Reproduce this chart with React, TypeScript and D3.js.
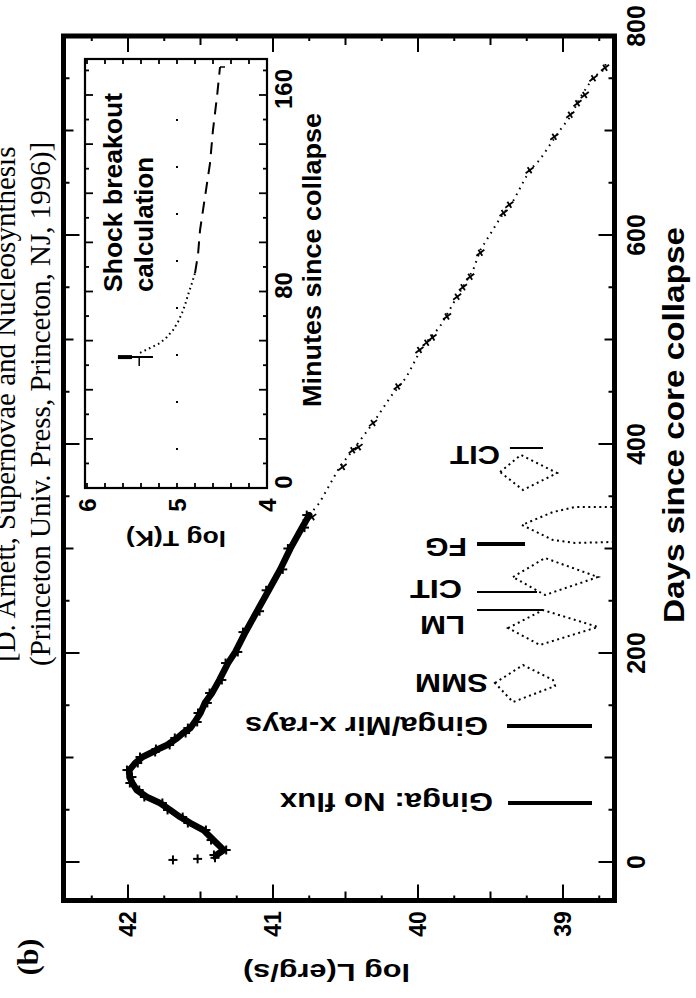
import React from 'react';
import * as d3 from 'd3';

const WIDTH = 696;
const HEIGHT = 998;

// ---------------- Light curve (days since core collapse, log L in erg/s) -----
const earlyDays = [2, 3, 4];
const earlyLogL = [41.69, 41.52, 41.4];

const bandDays = [6.7, 11.5, 21, 30.6, 37.3, 43, 49.8, 56.5, 62.2, 68.9, 75.6, 81.3, 88, 94.7, 100.5, 105.3, 108.1, 112, 118.7, 123.4, 128.2, 134, 142.6, 152.2, 161.7, 174.2, 190.4, 201, 220, 240, 260, 280, 300, 320, 332];
const bandLogL = [41.39, 41.34, 41.41, 41.48, 41.57, 41.64, 41.71, 41.78, 41.87, 41.94, 41.97, 41.99, 41.99, 41.95, 41.9, 41.83, 41.79, 41.73, 41.66, 41.62, 41.57, 41.54, 41.5, 41.47, 41.42, 41.37, 41.31, 41.26, 41.19, 41.11, 41.03, 40.95, 40.88, 40.8, 40.75];

const tailDays = [332, 343.5, 378, 394, 420, 445, 464, 493, 512, 541, 566.5, 585.6, 617, 633.5, 662, 672, 700.5, 713, 732, 751, 758, 765.5];
const tailLogL = [40.75, 40.68, 40.54, 40.45, 40.31, 40.19, 40.08, 39.97, 39.85, 39.73, 39.62, 39.57, 39.43, 39.34, 39.23, 39.16, 39.02, 38.95, 38.88, 38.79, 38.72, 38.7];

const crossDays = [325, 330, 378, 394, 397, 420, 455, 490, 497, 502, 522, 541, 550, 560, 583, 621, 629, 662, 694, 715, 726, 734, 750, 760];
const crossLogL = [40.78, 40.73, 40.52, 40.45, 40.41, 40.31, 40.14, 39.99, 39.94, 39.9, 39.8, 39.73, 39.69, 39.64, 39.57, 39.41, 39.37, 39.23, 39.06, 38.95, 38.9, 38.85, 38.79, 38.71];

// ---------------- Observation annotations ------------------------------------
const obsLabels = ['Ginga: No flux', 'Ginga/Mir x-rays', 'SMM', 'LM', 'CIT', 'FG', 'CIT'];
const obsLabelDays = [57, 130, 171, 227, 261, 301, 389];
const obsLabelLogL = [39.483, 39.517, 39.517, 39.676, 39.697, 39.662, 39.434];
const obsLabelWidths = [213, 243, 73, 45, 52, 42, 50];

const obsLineDays = [56.5, 130.1, 241.1, 258.4, 304.3, 396.2];
const obsLineFromLogL = [39.379, 39.386, 39.593, 39.593, 39.593, 39.366];
const obsLineToLogL = [38.8, 38.8, 39.138, 39.179, 39.262, 39.138];
const obsLineHeavy = [true, true, false, false, true, false];

const smmBoxDays = [171.3, 188.5, 174.2, 168.4, 153.1];
const smmBoxLogL = [39.469, 39.276, 39.069, 39.055, 39.345];
const lmBoxDays = [223.9, 241.1, 224.9, 207.7];
const lmBoxLogL = [39.379, 39.138, 38.759, 39.159];
const citBoxDays = [272.7, 290.9, 272.7, 255.5];
const citBoxLogL = [39.345, 39.124, 38.759, 39.124];
const fgBoxDays = [339.7, 339.7, 334.9, 322.5, 308.1, 305.3, 306.2];
const fgBoxLogL = [38.66, 38.917, 39.069, 39.283, 39.069, 38.917, 38.66];
const cit2BoxDays = [373.2, 389.5, 372.2, 356];
const cit2BoxLogL = [39.434, 39.29, 39.041, 39.276];

// ---------------- Axes ---------------------------------------------------------
const dayTicks = [0, 200, 400, 600, 800];
const logLTicks = [42, 41, 40, 39];

// ---------------- Inset: shock breakout calculation ----------------------------
const spikeMinute = 53.3;
const spikeLogT = [5.656, 5.267];
const coolDotMinutes = [55.0, 57.0, 59.0, 61.5, 64.3, 67.6, 71.3, 74.5, 78.6, 83.5, 87.5];
const coolDotLogT = [5.411, 5.3, 5.189, 5.111, 5.044, 4.989, 4.944, 4.911, 4.878, 4.833, 4.8];
const coolDashMinutes = [87.5, 94.9, 105, 118.5, 132.3, 145.8, 159.2, 171.4];
const coolDashLogT = [4.8, 4.767, 4.744, 4.689, 4.633, 4.6, 4.556, 4.522];
const minuteTicks = [0, 80, 160];
const logTTicks = [6, 5, 4];

const SANS = '"Liberation Sans", Arial, Helvetica, sans-serif';
const SERIF = '"Liberation Serif", "Times New Roman", serif';

type RTProps = {
  x: number; y: number; rot: number; size: number; children: React.ReactNode;
  anchor?: string; baseline?: string; len?: number; family?: string; weight?: string | number;
};

function RText({ x, y, rot, size, children, anchor = 'middle', baseline = 'central', len, family = SANS, weight = 'bold' }: RTProps) {
  return (
    <text
      transform={`translate(${x},${y}) rotate(${rot})`}
      fontSize={size}
      fontFamily={family}
      fontWeight={weight}
      textAnchor={anchor}
      dominantBaseline={baseline}
      textLength={len}
      lengthAdjust={len ? 'spacingAndGlyphs' : undefined}
      fill="#000"
    >
      {children}
    </text>
  );
}

export default function App() {
  // main plot: log L runs right-to-left, days run bottom-to-top
  const xL = d3.scaleLinear().domain([42, 39]).range([128, 563]);
  const yD = d3.scaleLinear().domain([0, 800]).range([862, 26]);
  const frame = { x0: 63.5, y0: 36, x1: 614.5, y1: 900.5 };

  // inset: log T runs right-to-left, minutes bottom-to-top
  const xT = d3.scaleLinear().domain([6, 4]).range([87, 267]);
  const yM = d3.scaleLinear().domain([0, 160]).range([488, 95]);
  const inset = { x0: 85, y0: 59, x1: 267, y1: 488 };

  const lcLine = d3.line<[number, number]>().x((d) => xL(d[1])).y((d) => yD(d[0]));
  const bandPts = bandDays.map((d, i) => [d, bandLogL[i]] as [number, number]);
  const tailPts = tailDays.map((d, i) => [d, tailLogL[i]] as [number, number]);

  const insetLine = d3.line<[number, number]>().x((d) => xT(d[1])).y((d) => yM(d[0]));
  const dotPts = coolDotMinutes.map((m, i) => [m, coolDotLogT[i]] as [number, number]);
  const dashPts = coolDashMinutes.map((m, i) => [m, coolDashLogT[i]] as [number, number]);

  const boxPath = (days: number[], logL: number[], closed: boolean) => {
    const p = lcLine(days.map((d, i) => [d, logL[i]] as [number, number])) || '';
    return closed ? p + 'Z' : p;
  };

  const dayMinor = d3.range(0, 800, 50);
  const logLMinor = d3.range(38.75, 42.5, 0.25);
  const minuteMinor = d3.range(0, 175, 10);
  const logTMinor = d3.range(4, 6.01, 0.2);

  const plus = (cx: number, cy: number, s: number, key: string, sw = 1.8) => (
    <g key={key} stroke="#000" strokeWidth={sw}>
      <line x1={cx - s} y1={cy} x2={cx + s} y2={cy} />
      <line x1={cx} y1={cy - s} x2={cx} y2={cy + s} />
    </g>
  );

  return (
    <svg
      width={WIDTH}
      height={HEIGHT}
      viewBox={`0 0 ${WIDTH} ${HEIGHT}`}
      style={{ position: 'absolute', left: 0, top: 0, background: '#fff' }}
    >
      <rect x={0} y={0} width={WIDTH} height={HEIGHT} fill="#fff" />

      {/* citation, printed sideways */}
      <RText x={15} y={662} rot={-90} size={29} family={SERIF} weight="normal" anchor="start" baseline="alphabetic">
        [D. Arnett, Supernovae and Nucleosynthesis
      </RText>
      <RText x={50} y={666} rot={-90} size={29} family={SERIF} weight="normal" anchor="start" baseline="alphabetic">
        (Princeton Univ. Press, Princeton, NJ, 1996)]
      </RText>
      <RText x={27} y={957} rot={-90} size={30} family={SERIF} weight="bold">(b)</RText>

      {/* main frame ticks */}
      <g stroke="#000" strokeWidth={2}>
        {dayMinor.map((d) => {
          const len = d % 200 === 0 ? 16 : d % 100 === 0 ? 10 : 6;
          return (
            <g key={`dt${d}`}>
              <line x1={frame.x0} x2={frame.x0 + len} y1={yD(d)} y2={yD(d)} />
              <line x1={frame.x1} x2={frame.x1 - len} y1={yD(d)} y2={yD(d)} />
            </g>
          );
        })}
        {logLMinor.map((v) => {
          const isInt = Math.abs(v - Math.round(v)) < 1e-6;
          const isHalf = Math.abs(v * 2 - Math.round(v * 2)) < 1e-6;
          const len = isInt ? 16 : isHalf ? 9 : 5;
          const x = xL(v);
          if (x < frame.x0 + 3 || x > frame.x1 - 3) return null;
          return (
            <g key={`lt${v}`}>
              <line x1={x} x2={x} y1={frame.y0} y2={frame.y0 + len} />
              <line x1={x} x2={x} y1={frame.y1} y2={frame.y1 - len} />
            </g>
          );
        })}
      </g>

      {/* inset */}
      <rect x={inset.x0} y={inset.y0} width={inset.x1 - inset.x0} height={inset.y1 - inset.y0} fill="#fff" stroke="#000" strokeWidth={2.2} />
      <g stroke="#000" strokeWidth={1.8}>
        {minuteMinor.map((m) => {
          const len = m % 20 === 0 ? 8 : 4;
          return (
            <g key={`mt${m}`}>
              <line x1={inset.x0} x2={inset.x0 + len} y1={yM(m)} y2={yM(m)} />
              <line x1={inset.x1} x2={inset.x1 - len} y1={yM(m)} y2={yM(m)} />
            </g>
          );
        })}
        {logTMinor.map((v) => (
          <g key={`tt${v.toFixed(1)}`}>
            <line x1={xT(v)} x2={xT(v)} y1={inset.y0} y2={inset.y0 + 5} />
            <line x1={xT(v)} x2={xT(v)} y1={inset.y1} y2={inset.y1 - 5} />
          </g>
        ))}
      </g>
      {/* sparse guide at log T = 5 */}
      <line x1={xT(5)} x2={xT(5)} y1={inset.y0 + 60} y2={inset.y1 - 30} stroke="#000" strokeWidth={2} strokeDasharray="2 45" />

      {/* breakout spike and cooling curve */}
      <line x1={xT(spikeLogT[0])} x2={xT(spikeLogT[1])} y1={yM(spikeMinute)} y2={yM(spikeMinute)} stroke="#000" strokeWidth={2} />
      <line x1={xT(spikeLogT[0])} x2={xT(spikeLogT[0]) + 14} y1={yM(spikeMinute)} y2={yM(spikeMinute)} stroke="#000" strokeWidth={4} />
      <line x1={xT(5.42)} x2={xT(5.42)} y1={yM(spikeMinute)} y2={yM(spikeMinute) + 9} stroke="#000" strokeWidth={1.5} />
      <path d={insetLine(dotPts) || ''} fill="none" stroke="#000" strokeWidth={2} strokeDasharray="1.6 3.4" />
      <path d={insetLine(dashPts) || ''} fill="none" stroke="#000" strokeWidth={2} strokeDasharray="12 8" />
      <line x1={xT(4.522)} x2={xT(4.522) + 5} y1={yM(171.4)} y2={yM(171.4)} stroke="#000" strokeWidth={1.5} />

      <RText x={122} y={292} rot={-90} size={26} anchor="start" baseline="alphabetic" len={199}>Shock breakout</RText>
      <RText x={153} y={292} rot={-90} size={26} anchor="start" baseline="alphabetic" len={135}>calculation</RText>

      {minuteTicks.map((m) => (
        <RText key={`ml${m}`} x={283} y={yM(m) - 6} rot={-90} size={24}>{m}</RText>
      ))}
      <RText x={321} y={407} rot={-90} size={26} anchor="start" baseline="alphabetic" len={294}>Minutes since collapse</RText>
      {logTTicks.map((v) => (
        <RText key={`tl${v}`} x={xT(v)} y={505} rot={-90} size={24}>{v}</RText>
      ))}
      <RText x={226} y={538} rot={180} size={22} anchor="start" len={100}>log T(K)</RText>

      {/* light curve */}
      <path d={lcLine(bandPts) || ''} fill="none" stroke="#000" strokeWidth={6.5} strokeLinejoin="round" strokeLinecap="round" />
      {bandPts.map((p, i) => plus(xL(p[1]) + (i % 2 ? 2.5 : -2.5), yD(p[0]), 4.5, `bp${i}`, 2))}
      {earlyDays.map((d, i) => plus(xL(earlyLogL[i]), yD(d), 4.5, `ep${i}`, 2))}
      <path d={lcLine(tailPts) || ''} fill="none" stroke="#000" strokeWidth={2} strokeDasharray="1.6 5" />
      {crossDays.map((d, i) => {
        const cx = xL(crossLogL[i]);
        const cy = yD(d);
        return (
          <g key={`cx${i}`} stroke="#000" strokeWidth={1.8}>
            <line x1={cx - 4} y1={cy + 3} x2={cx + 4} y2={cy - 3} />
            <line x1={cx - 2} y1={cy - 3} x2={cx + 2} y2={cy + 3} />
          </g>
        );
      })}

      {/* observation annotations */}
      {obsLineDays.map((d, i) => (
        <line
          key={`ol${i}`}
          x1={xL(obsLineFromLogL[i])}
          x2={xL(obsLineToLogL[i])}
          y1={yD(d)}
          y2={yD(d)}
          stroke="#000"
          strokeWidth={obsLineHeavy[i] ? 4 : 2}
        />
      ))}
      <g fill="none" stroke="#000" strokeWidth={2} strokeDasharray="2 3.5">
        <path d={boxPath(smmBoxDays, smmBoxLogL, true)} />
        <path d={boxPath(lmBoxDays, lmBoxLogL, true)} />
        <path d={boxPath(citBoxDays, citBoxLogL, true)} />
        <path d={boxPath(fgBoxDays, fgBoxLogL, false)} />
        <path d={boxPath(cit2BoxDays, cit2BoxLogL, true)} />
      </g>
      {obsLabels.map((t, i) => (
        <RText key={`lab${i}`} x={xL(obsLabelLogL[i])} y={yD(obsLabelDays[i])} rot={180} size={25} anchor="start" len={obsLabelWidths[i]}>
          {t}
        </RText>
      ))}

      {/* main frame */}
      <rect x={frame.x0} y={frame.y0} width={frame.x1 - frame.x0} height={frame.y1 - frame.y0} fill="none" stroke="#000" strokeWidth={5} />

      {/* axis labels */}
      {dayTicks.map((d) => (
        <RText key={`dl${d}`} x={636} y={yD(d)} rot={-90} size={25}>{d}</RText>
      ))}
      <RText x={684} y={623} rot={-90} size={30} anchor="start" baseline="alphabetic" len={396}>Days since core collapse</RText>
      {logLTicks.map((v) => (
        <RText key={`ll${v}`} x={xL(v)} y={924} rot={-90} size={23}>{v}</RText>
      ))}
      <RText x={410} y={972} rot={180} size={24} anchor="start" len={167}>log L(erg/s)</RText>
    </svg>
  );
}
